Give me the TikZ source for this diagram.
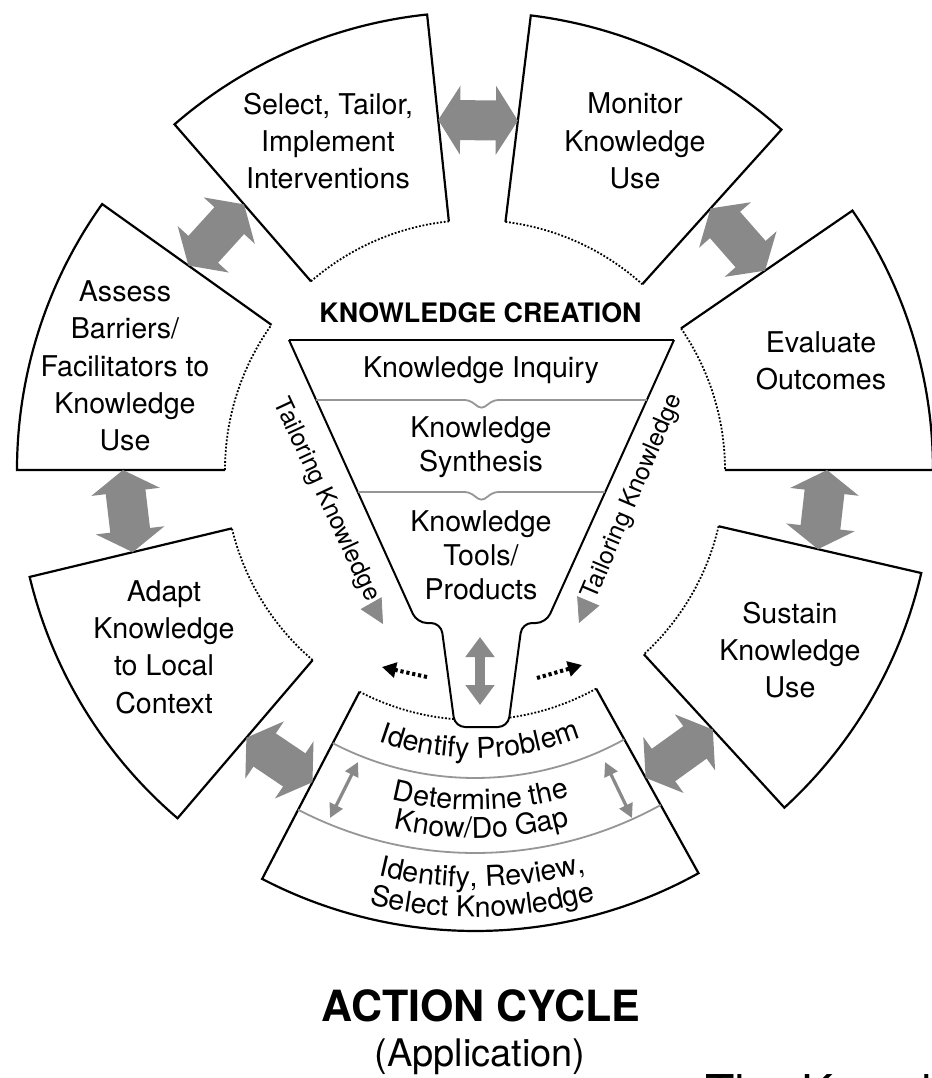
\documentclass[tikz,border=0pt]{standalone}
\usepackage{fontspec}
\setmainfont{TeX Gyre Heros}
\usetikzlibrary{arrows.meta, decorations.text}

\definecolor{arrowgray}{RGB}{137,137,137}
\definecolor{bandgray}{RGB}{150,150,150}
\newcommand{\labelfont}{\fontsize{14.3}{18.7}\selectfont}
\newcommand{\funnelfont}{\fontsize{14.3}{17}\selectfont}

\begin{document}
\begin{tikzpicture}[
    x=0.5pt, y=0.5pt,
    font=\labelfont,
    sector/.style={draw, line width=1.1pt},
    innerarc/.style={line width=0.9pt, dash pattern=on 0.9pt off 0.9pt},
    seglabel/.style={align=center, inner sep=0pt},
    band/.style={draw=bandgray, line width=0.9pt},
    blockarrow/.style={draw=arrowgray, line width=20pt, {Triangle[length=11pt,width=34pt]}-{Triangle[length=11pt,width=34pt]}},
    arctext/.style={decorate, decoration={text along path, text align=center, text={|\labelfont|#1}}},
    tailor/.style={inner sep=0pt, font=\fontsize{12.3}{14}\selectfont},
    tailtip/.style={draw=arrowgray, line width=0.4pt, -{Triangle[length=12pt,width=12pt]}},
    flow/.style={line width=2pt, dash pattern=on 1.6pt off 1.4pt, -{Triangle[length=7pt,width=7.5pt]}},
    spout/.style={draw=arrowgray, line width=5pt, {Triangle[length=10pt,width=14pt]}-{Triangle[length=10pt,width=14pt]}},
    bandarrow/.style={draw=arrowgray, line width=1.6pt, {Triangle[length=7pt,width=7pt]}-{Triangle[length=7pt,width=7pt]}},
]
\path[use as bounding box, fill=white] (-475,-608) rectangle (457,470);

% Action cycle sectors
\draw[sector] (0:250) -- (0:458) arc[start angle=0, end angle=34.5, radius=458] -- (34.5:250);
\draw[innerarc] (34.5:250) arc[start angle=34.5, end angle=0, radius=250];
\draw[sector] (48:250) -- (48:458) arc[start angle=48, end angle=83, radius=458] -- (83:250);
\draw[innerarc] (83:250) arc[start angle=83, end angle=48, radius=250];
\draw[sector] (96:250) -- (96:458) arc[start angle=96, end angle=131, radius=458] -- (131:250);
\draw[innerarc] (131:250) arc[start angle=131, end angle=96, radius=250];
\draw[sector] (144.5:250) -- (144.5:458) arc[start angle=144.5, end angle=180, radius=458] -- (180:250);
\draw[innerarc] (180:250) arc[start angle=180, end angle=144.5, radius=250];
\draw[sector] (193.5:250) -- (193.5:458) arc[start angle=193.5, end angle=229.5, radius=458] -- (229.5:250);
\draw[innerarc] (229.5:250) arc[start angle=229.5, end angle=193.5, radius=250];
\draw[sector] (312.5:250) -- (312.5:458) arc[start angle=312.5, end angle=347, radius=458] -- (347:250);
\draw[innerarc] (347:250) arc[start angle=347, end angle=312.5, radius=250];

% Bottom sector with its three steps
\draw[sector] (242.5:250) -- (242.5:461) arc[start angle=242.5, end angle=299, radius=461] -- (299:250);
\draw[innerarc] (299:250) arc[start angle=299, end angle=242.5, radius=250];
\draw[band] (242.5:308) arc[start angle=242.5, end angle=299, radius=308];
\draw[band] (242.5:383) arc[start angle=242.5, end angle=299, radius=383];
\path[arctext={Identify Problem}] (241:288) arc[start angle=241, end angle=301, radius=288];
\path[arctext={Determine the}] (241:340) arc[start angle=241, end angle=301, radius=340];
\path[arctext={Know/Do Gap}] (241:368) arc[start angle=241, end angle=301, radius=368];
\path[arctext={Identify, Review,}] (241:417) arc[start angle=241, end angle=301, radius=417];
\path[arctext={Select Knowledge}] (241:447) arc[start angle=241, end angle=301, radius=447];

% Sector labels
\node[seglabel] (select) at (-147,329) {Select, Tailor,\\Implement\\Interventions};
\node[seglabel] (monitor) at (160,329) {Monitor\\Knowledge\\Use};
\node[seglabel] (evaluate) at (346,109) {Evaluate\\Outcomes};
\node[seglabel] (sustain) at (315,-180) {Sustain\\Knowledge\\Use};
\node[seglabel] (adapt) at (-311,-177) {Adapt\\Knowledge\\to Local\\Context};
\node[seglabel] (assess) at (-350,104) {Assess\\Barriers/\\Facilitators to\\Knowledge\\Use};

% Block arrows between sectors
\coordinate (evalend) at (34.5:352);   \coordinate (monstart) at (48:352);
\coordinate (monend) at (83:352);      \coordinate (selstart) at (96:352);
\coordinate (selend) at (131:352);     \coordinate (assstart) at (144.5:352);
\coordinate (assend) at (180:352);     \coordinate (adastart) at (193.5:352);
\coordinate (adaend) at (229.5:352);   \coordinate (botstart) at (242.5:352);
\coordinate (botend) at (299:352);     \coordinate (susstart) at (312.5:352);
\coordinate (susend) at (347:352);     \coordinate (evalstart) at (360:352);
\draw[blockarrow] (evalend) -- (monstart);
\draw[blockarrow] (monend) -- (selstart);
\draw[blockarrow] (selend) -- (assstart);
\draw[blockarrow] (assend) -- (adastart);
\draw[blockarrow] (adaend) -- (botstart);
\draw[blockarrow] (botend) -- (susstart);
\draw[blockarrow] (susend) -- (evalstart);

% Knowledge creation funnel
\draw[line width=1pt, fill=white, rounded corners=5pt] (-186,130) -- (-58,-153) -- (-34,-153) -- (-20,-257) -- (33,-257) -- (47,-153) -- (71,-153) -- (199,130);
\draw[line width=1.4pt] (-186,130) -- (199,130);
\draw[band, rounded corners=2pt] (-159,70) -- (-6,70) -- (6.5,61) -- (19,70) -- (172,70);
\draw[band, rounded corners=2pt] (-117,-22) -- (-6,-22) -- (6.5,-31) -- (19,-22) -- (130,-22);
\node[font=\bfseries\fontsize{13.4}{16}\selectfont] (creation) at (5.5,157) {KNOWLEDGE CREATION};
\node[seglabel] (inquiry) at (6,100) {Knowledge Inquiry};
\node[seglabel, font=\funnelfont] (synthesis) at (6,23) {Knowledge\\Synthesis};
\node[seglabel, font=\funnelfont] (tools) at (6,-85) {Knowledge\\Tools/\\Products};

% Tailoring knowledge
\node[tailor, rotate=-65] (tailleft) at (-149,-30) {Tailoring Knowledge};
\node[tailor, rotate=67] (tailright) at (158,-27) {Tailoring Knowledge};
\coordinate (tipleft) at (-104,-133);
\coordinate (tipleftend) at (-92,-154);
\coordinate (tipright) at (112,-134);
\coordinate (triprightend) at (104,-153);
\draw[tailtip] (tipleft) -- (tipleftend);
\draw[tailtip] (tipright) -- (triprightend);

% Arrows round the spout
\coordinate (spouttop) at (5,-167);
\coordinate (spoutbot) at (5,-235);
\draw[spout] (spouttop) -- (spoutbot);
\coordinate (flowleft) at (-48,-207);
\coordinate (flowleftend) at (-93,-197);
\coordinate (flowright) at (62,-208);
\coordinate (flowrightend) at (107,-195);
\draw[flow] (flowleft) -- (flowleftend);
\draw[flow] (flowright) -- (flowrightend);
\coordinate (bandleft) at (-117,-292);
\coordinate (bandleftend) at (-145,-348);
\coordinate (bandright) at (130,-292);
\coordinate (bandrightend) at (157,-348);
\draw[bandarrow] (bandleft) -- (bandleftend);
\draw[bandarrow] (bandright) -- (bandrightend);

% Titles
\node[font=\bfseries\fontsize{21.5}{24}\selectfont] (action) at (6,-536) {ACTION CYCLE};
\node[anchor=base, font=\fontsize{19}{22}\selectfont] (application) at (5,-596) {(Application)};
\node[anchor=base west, inner sep=0pt, font=\fontsize{24}{28}\selectfont] (framework) at (230,-639) {The Knowledge};
\end{tikzpicture}
\end{document}
